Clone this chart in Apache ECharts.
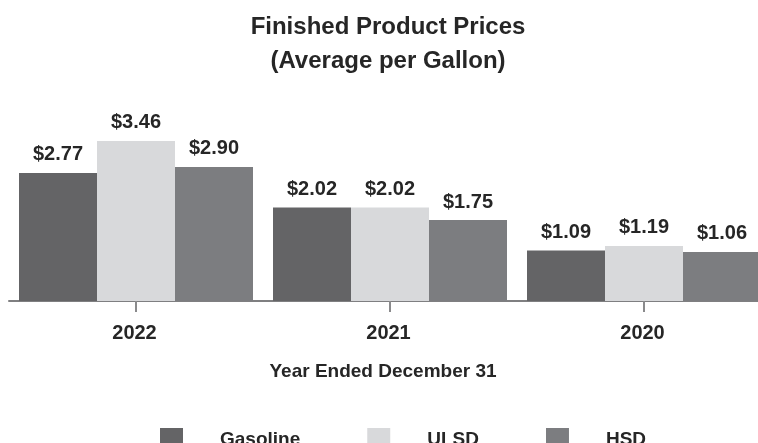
<!DOCTYPE html>
<html>
<head>
<meta charset="utf-8">
<script src="https://cdn.jsdelivr.net/npm/echarts@6/dist/echarts.min.js"></script>
<style>
  html, body { margin: 0; padding: 0; background: #ffffff; }
  #chart { width: 758px; height: 443px; }
</style>
</head>
<body>
<div id="chart"></div>
<script>
const categories = ['2022', '2021', '2020'];
const gasoline = [2.77, 2.02, 1.09];
const ulsd = [3.46, 2.02, 1.19];
const hsd = [2.90, 1.75, 1.06];
const seriesNames = ['Gasoline', 'ULSD', 'HSD'];
const titleText = 'Finished Product Prices\n(Average per Gallon)';
const xAxisName = 'Year Ended December 31';

const FONT = "'Liberation Sans', Arial, sans-serif";
const TEXT = '#262626';
const colors = ['#646466', '#d8d9db', '#7c7d80'];

const chart = echarts.init(document.getElementById('chart'), null, { renderer: 'canvas' });

function barSeries(name, data, color) {
  return {
    name: name,
    type: 'bar',
    data: data,
    barWidth: 78,
    barGap: '0%',
    itemStyle: { color: color },
    label: {
      show: true,
      position: 'top',
      distance: 8,
      formatter: p => '$' + p.value.toFixed(2),
      fontFamily: FONT,
      fontWeight: 'bold',
      fontSize: 20,
      color: TEXT
    }
  };
}

chart.setOption({
  animation: false,
  backgroundColor: '#ffffff',
  title: {
    text: titleText,
    left: 388,
    textAlign: 'center',
    top: 10,
    padding: 0,
    textStyle: {
      fontFamily: FONT,
      fontWeight: 'bold',
      fontSize: 24,
      lineHeight: 34,
      color: TEXT
    }
  },
  legend: {
    data: seriesNames,
    left: 160,
    top: 428,
    padding: 0,
    icon: 'rect',
    itemWidth: 23,
    itemHeight: 23,
    itemGap: 67,
    textStyle: {
      fontFamily: FONT,
      fontWeight: 'bold',
      fontSize: 19,
      color: TEXT,
      padding: [0, 0, 0, 32]
    }
  },
  grid: {
    left: 9,
    width: 762,
    top: 116,
    bottom: 142,
    containLabel: false,
    outerBoundsMode: 'none'
  },
  xAxis: {
    type: 'category',
    data: categories,
    name: xAxisName,
    nameLocation: 'middle',
    nameGap: 61,
    nameTextStyle: {
      fontFamily: FONT,
      fontWeight: 'bold',
      fontSize: 19,
      color: TEXT,
      padding: [0, 14, 0, 0]
    },
    axisLine: { show: true, lineStyle: { color: '#7f7f81', width: 2 } },
    axisTick: { show: true, alignWithLabel: true, length: 11, lineStyle: { color: '#8a8a8c', width: 2 } },
    axisLabel: {
      margin: 22,
      fontFamily: FONT,
      fontWeight: 'bold',
      fontSize: 20,
      color: TEXT,
      padding: [0, 3, 0, 0]
    }
  },
  yAxis: {
    type: 'value',
    min: 0,
    max: 4,
    show: false,
    splitLine: { show: false }
  },
  series: [
    barSeries(seriesNames[0], gasoline, colors[0]),
    barSeries(seriesNames[1], ulsd, colors[1]),
    barSeries(seriesNames[2], hsd, colors[2])
  ]
});
</script>
</body>
</html>
